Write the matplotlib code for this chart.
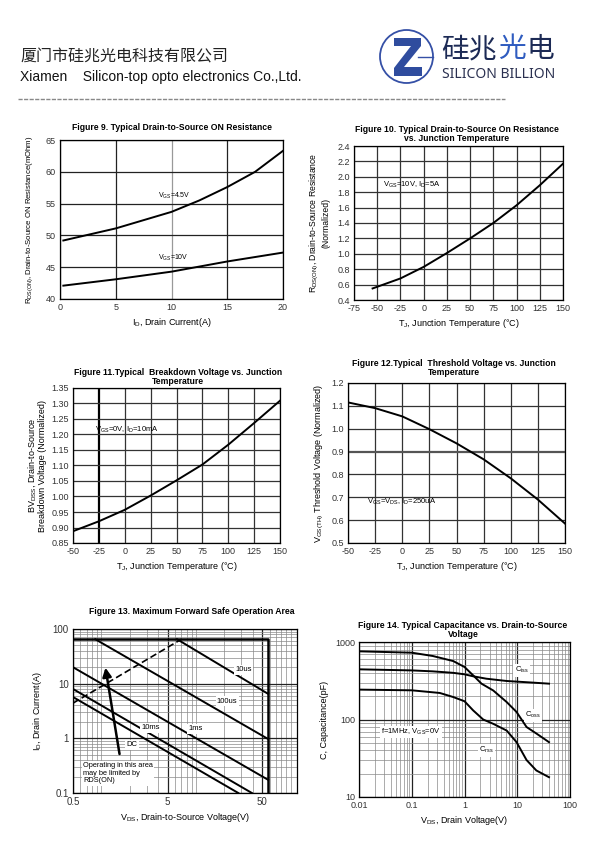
import matplotlib
matplotlib.use('Agg')
import matplotlib.pyplot as plt
from matplotlib.patches import Circle, Polygon
from matplotlib.ticker import FixedLocator, LogLocator, NullFormatter, FuncFormatter

plt.rcParams['font.family'] = ['Liberation Sans', 'Noto Sans CJK SC', 'DejaVu Sans']
plt.rcParams['mathtext.fontset'] = 'custom'
plt.rcParams['mathtext.rm'] = 'Liberation Sans'
plt.rcParams['mathtext.it'] = 'Liberation Sans:italic'
plt.rcParams['mathtext.bf'] = 'Liberation Sans:bold'
plt.rcParams['axes.unicode_minus'] = False

W, H = 600, 848

# Figure 9: Rds(on) vs drain current
id_amps = [0.3, 5, 10, 12.5, 15, 17.5, 20]
rds_vgs45 = [49.2, 51.1, 53.7, 55.5, 57.6, 60.0, 63.3]
rds_vgs10 = [42.1, 43.1, 44.3, 45.1, 45.9, 46.6, 47.3]

# Figure 10: normalized Rds(on) vs Tj
tj_rds = [-55, -25, 0, 25, 50, 75, 100, 125, 150]
rds_norm = [0.55, 0.68, 0.83, 1.01, 1.20, 1.40, 1.63, 1.89, 2.17]

# Figure 11 / 12: BVdss and Vth vs Tj
tj = [-50, -25, 0, 25, 50, 75, 100, 125, 150]
bvdss_norm = [0.888, 0.920, 0.957, 1.003, 1.052, 1.103, 1.167, 1.237, 1.309]
vth_norm = [1.115, 1.090, 1.054, 0.998, 0.936, 0.866, 0.783, 0.690, 0.585]

# Figure 13: safe operating area (end points of each limit line)
soa_box_v = [0.5, 58, 58]
soa_box_i = [65, 65, 0.1]
soa_rds_v = [0.5, 7.0]
soa_rds_i = [4.4, 65]
soa_lines = {
    '10us': ([6.3, 58], [65, 6.5]),
    '100us': ([0.86, 58], [65, 0.97]),
    '1ms': ([0.5, 58], [20, 0.174]),
    '10ms': ([0.5, 39], [8.0, 0.1]),
    'DC': ([0.5, 28], [5.7, 0.1]),
}

# Figure 14: capacitance vs Vds
v_coss = [0.01, 0.1, 0.25, 0.61, 1.0, 1.46, 2.1, 3.5, 6.3, 9.7, 15, 23, 40]
c_oss = [758, 728, 660, 568, 476, 371, 290, 237, 168, 125, 80, 66, 51]
v_ciss = [0.01, 0.1, 0.25, 0.61, 1.0, 1.46, 2.6, 6.3, 20, 40]
c_iss = [444, 430, 418, 400, 383, 361, 336, 314, 299, 290]
v_crss = [0.01, 0.1, 0.34, 0.61, 1.0, 1.46, 2.26, 3.5, 6.3, 9.7, 15, 23, 40]
c_rss = [243, 238, 220, 195, 172, 131, 100, 88, 72, 51, 30, 22, 18]


def px_axes(fig, left, top, right, bottom):
  return fig.add_axes([left / W, 1 - bottom / H, (right - left) / W, (bottom - top) / H])


def style(ax, fs=6.5):
  for s in ax.spines.values():
    s.set_color('black')
    s.set_linewidth(0.9)
  ax.tick_params(length=0, labelsize=fs, pad=3, colors='#333333')
  ax.set_axisbelow(True)


def title(fig, x, y, text):
  fig.text(x / W, 1 - y / H, text, ha='center', va='center', fontsize=6.2,
           fontweight='bold', linespacing=1.05)


def log_grid(ax):
  ax.xaxis.set_minor_locator(LogLocator(base=10, subs=range(1, 10), numticks=20))
  ax.yaxis.set_minor_locator(LogLocator(base=10, subs=range(1, 10), numticks=20))
  ax.xaxis.set_minor_formatter(NullFormatter())
  ax.yaxis.set_minor_formatter(NullFormatter())
  ax.grid(which='minor', color='#8a8a8a', lw=0.5)
  ax.grid(which='major', color='#222222', lw=0.9)
  ax.tick_params(which='minor', length=0)


fig = plt.figure(figsize=(6, 8.48), dpi=100)

# ---- header ----
hd = fig.add_axes([0, 0, 1, 1])
hd.set_xlim(0, W)
hd.set_ylim(H, 0)
hd.axis('off')
hd.text(20, 57, '厦门市硅兆光电科技有限公司', fontsize=11.5, family='Noto Sans CJK SC',
        va='center', ha='left', color='#222222')
hd.text(20, 77, 'Xiamen    Silicon-top opto electronics Co.,Ltd.', fontsize=10,
        va='center', ha='left', color='#111111')
hd.add_patch(Circle((406.5, 56.5), 26.5, fill=False, ec='#3550a6', lw=1.3))
hd.plot([418, 433], [57, 57], color='#3550a6', lw=1.0)
hd.add_patch(Polygon([(394, 38), (421, 38), (421, 46), (404, 67), (422, 67), (422, 76),
                      (394, 76), (394, 68), (411, 46), (394, 46)], closed=True,
                     fc='#2f4c9e', ec='none'))
hd.text(441, 49, '硅兆', fontsize=20, family='Noto Sans CJK SC', va='center', ha='left',
        color='#1c2a55')
hd.text(498, 49, '光', fontsize=20, family='Noto Sans CJK SC', va='center', ha='left',
        color='#2f5cc0')
hd.text(526, 49, '电', fontsize=20, family='Noto Sans CJK SC', va='center', ha='left',
        color='#1c2a55')
hd.text(442, 74, 'SILICON BILLION', fontsize=10, family='Noto Sans', fontweight='light',
        va='center', ha='left', color='#2a3050')
hd.plot([18, 505], [99, 99], color='#888888', lw=1.0, ls=(0, (3, 1)))

# ---- Figure 9 ----
ax = px_axes(fig, 60, 140, 283, 299)
ax.plot(id_amps, rds_vgs45, color='black', lw=1.4)
ax.plot(id_amps, rds_vgs10, color='black', lw=1.4)
ax.set_xlim(0, 20)
ax.set_ylim(40, 65)
ax.set_xticks([0, 5, 10, 15, 20])
ax.set_yticks([40, 45, 50, 55, 60, 65])
ax.grid(color='#222222', lw=0.9)
ax.get_xgridlines()[2].set_color('#999999')
style(ax)
ax.text(8.8, 56.2, r'V$_{\rm GS}$=4.5V', fontsize=5, ha='left', va='center')
ax.text(8.8, 46.4, r'V$_{\rm GS}$=10V', fontsize=5, ha='left', va='center')
ax.set_xlabel(r'I$_{\rm D}$, Drain Current(A)', fontsize=6.5, labelpad=3)
ax.set_ylabel(r'R$_{\rm DS(ON)}$, Drain-to-Source ON Resistance(mOhm)', fontsize=5.6, labelpad=8)
title(fig, 172, 127, 'Figure 9. Typical Drain-to-Source ON Resistance')

# ---- Figure 10 ----
ax = px_axes(fig, 354, 146, 563, 300)
ax.plot(tj_rds, rds_norm, color='black', lw=1.4)
ax.set_xlim(-75, 150)
ax.set_ylim(0.4, 2.4)
ax.set_xticks(range(-75, 151, 25))
ax.set_yticks([0.4, 0.6, 0.8, 1.0, 1.2, 1.4, 1.6, 1.8, 2.0, 2.2, 2.4])
ax.yaxis.set_major_formatter(FuncFormatter(lambda v, p: '%.1f' % v))
ax.grid(color='#333333', lw=0.9)
style(ax)
ax.text(-44, 1.89, r'V$_{\rm GS}$=10V, I$_{\rm D}$=5A', fontsize=5.5, ha='left', va='center')
ax.set_xlabel(r'T$_{\rm J}$, Junction Temperature (°C)', fontsize=6.5, labelpad=3)
ax.set_ylabel('R$_{\\rm DS(ON)}$, Drain-to-Source Resistance\n(Normalized)', fontsize=6.2,
              labelpad=5, linespacing=1.0)
title(fig, 457, 134, 'Figure 10. Typical Drain-to-Source On Resistance\nvs. Junction Temperature')

# ---- Figure 11 ----
ax = px_axes(fig, 73, 388, 280, 543)
ax.plot(tj, bvdss_norm, color='black', lw=1.4)
ax.set_xlim(-50, 150)
ax.set_ylim(0.85, 1.35)
ax.set_xticks(range(-50, 151, 25))
ax.set_yticks([0.85, 0.90, 0.95, 1.00, 1.05, 1.10, 1.15, 1.20, 1.25, 1.30, 1.35])
ax.yaxis.set_major_formatter(FuncFormatter(lambda v, p: '%.2f' % v))
ax.grid(color='#333333', lw=0.9)
ax.get_xgridlines()[1].set_linewidth(1.6)
ax.get_xgridlines()[1].set_color('black')
style(ax)
ax.text(-28.5, 1.216, r'V$_{\rm GS}$=0V, I$_{\rm D}$=10mA', fontsize=5.5, ha='left', va='center')
ax.set_xlabel(r'T$_{\rm J}$, Junction Temperature (°C)', fontsize=6.5, labelpad=3)
ax.set_ylabel('BV$_{\\rm DSS}$, Drain-to-Source\nBreakdown Voltage (Normalized)', fontsize=6.5,
              labelpad=3, linespacing=1.0)
title(fig, 178, 377, 'Figure 11.Typical  Breakdown Voltage vs. Junction\nTemperature')

# ---- Figure 12 ----
ax = px_axes(fig, 348, 383, 565, 543)
ax.plot(tj, vth_norm, color='black', lw=1.4)
ax.set_xlim(-50, 150)
ax.set_ylim(0.5, 1.2)
ax.set_xticks(range(-50, 151, 25))
ax.set_yticks([0.5, 0.6, 0.7, 0.8, 0.9, 1.0, 1.1, 1.2])
ax.yaxis.set_major_formatter(FuncFormatter(lambda v, p: '%.1f' % v))
ax.grid(color='#333333', lw=0.9)
ax.get_ygridlines()[4].set_linewidth(1.6)
ax.get_ygridlines()[4].set_color('#555555')
style(ax)
ax.text(-32.5, 0.68, r'V$_{\rm GS}$=V$_{\rm DS}$, I$_{\rm D}$=250uA', fontsize=5.5, ha='left',
        va='center')
ax.set_xlabel(r'T$_{\rm J}$, Junction Temperature (°C)', fontsize=6.5, labelpad=3)
ax.set_ylabel(r'V$_{\rm GS(TH)}$ Threshold Voltage (Normalized)', fontsize=6.5, labelpad=4)
title(fig, 454, 368, 'Figure 12.Typical  Threshold Voltage vs. Junction\nTemperature')

# ---- Figure 13 ----
ax = px_axes(fig, 73, 629, 297, 793)
ax.set_xscale('log')
ax.set_yscale('log')
ax.set_xlim(0.5, 117)
ax.set_ylim(0.1, 100)
ax.xaxis.set_major_locator(FixedLocator([0.5, 5, 50]))
ax.yaxis.set_major_locator(FixedLocator([0.1, 1, 10, 100]))
fmt = FuncFormatter(lambda v, p: '%g' % v)
ax.xaxis.set_major_formatter(fmt)
ax.yaxis.set_major_formatter(fmt)
log_grid(ax)
style(ax, 7)
ax.plot(soa_box_v, soa_box_i, color='black', lw=1.8)
ax.plot(soa_rds_v, soa_rds_i, color='black', lw=1.2, ls=(0, (4, 2)))
for name, (vv, ii) in soa_lines.items():
  ax.plot(vv, ii, color='black', lw=1.4)
lbl = dict(fontsize=5.5, ha='center', va='center',
           bbox=dict(fc='white', ec='none', pad=1.0))
ax.text(32, 17.8, '10us', **lbl)
ax.text(21.4, 4.8, '100us', **lbl)
ax.text(9.8, 1.5, '1ms', **lbl)
ax.text(3.3, 1.55, '10ms', **lbl)
ax.text(2.1, 0.76, 'DC', **lbl)
ax.annotate('', xy=(1.09, 22), xytext=(1.57, 0.46),
            arrowprops=dict(arrowstyle='-|>', color='black', lw=1.8, mutation_scale=13))
ax.text(0.64, 0.37, 'Operating in this area\nmay be limited by\nRDS(ON)', fontsize=5.3,
        ha='left', va='top', linespacing=1.15,
        bbox=dict(fc='white', ec='none', pad=1.0))
ax.set_xlabel(r'V$_{\rm DS}$, Drain-to-Source Voltage(V)', fontsize=6.5, labelpad=3)
ax.set_ylabel(r'I$_{\rm D}$, Drain Current(A)', fontsize=6.5, labelpad=6)
title(fig, 192, 612, 'Figure 13. Maximum Forward Safe Operation Area')

# ---- Figure 14 ----
ax = px_axes(fig, 359, 642, 570, 797)
ax.set_xscale('log')
ax.set_yscale('log')
ax.set_xlim(0.01, 100)
ax.set_ylim(10, 1000)
ax.xaxis.set_major_locator(FixedLocator([0.01, 0.1, 1, 10, 100]))
ax.yaxis.set_major_locator(FixedLocator([10, 100, 1000]))
ax.xaxis.set_major_formatter(fmt)
ax.yaxis.set_major_formatter(fmt)
log_grid(ax)
style(ax)
ax.plot(v_coss, c_oss, color='black', lw=1.4)
ax.plot(v_ciss, c_iss, color='black', lw=1.4)
ax.plot(v_crss, c_rss, color='black', lw=1.4)
ax.text(12.1, 431, r'C$_{\rm iss}$', **lbl)
ax.text(20, 113, r'C$_{\rm oss}$', **lbl)
ax.text(2.6, 40, r'C$_{\rm rss}$', **lbl)
ax.text(0.0265, 69, r'f=1MHz, V$_{\rm GS}$=0V', fontsize=5.5, ha='left', va='center',
        bbox=dict(fc='white', ec='none', pad=1.0))
ax.set_xlabel(r'V$_{\rm DS}$, Drain Voltage(V)', fontsize=6.5, labelpad=3)
ax.set_ylabel('C, Capacitance(pF)', fontsize=6.5, labelpad=4)
title(fig, 463, 630, 'Figure 14. Typical Capacitance vs. Drain-to-Source\nVoltage')

fig.savefig('out.png', dpi=100)
